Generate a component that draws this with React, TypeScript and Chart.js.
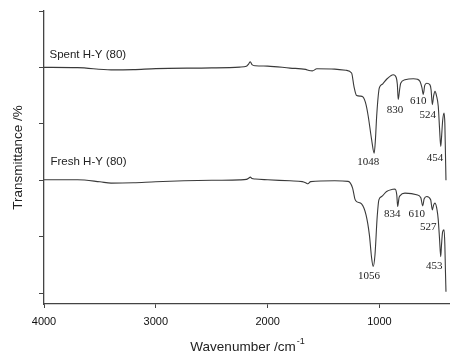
import React, { useEffect, useRef } from "react";
import { Chart, registerables } from "chart.js";

Chart.register(...registerables);

// Spent H-Y (80) spectrum: wavenumber (cm-1) and transmittance (offset, arbitrary units)
const spentWn = [4000, 3700, 3400, 3200, 3000, 2500, 2250, 2190, 2170, 2155, 2140, 2110, 2000, 1800, 1660, 1630, 1600, 1560, 1400, 1300, 1249, 1228, 1204, 1170, 1148, 1120, 1100, 1070, 1047, 1035, 1025, 1005, 996, 970, 936, 900, 877, 850, 840, 832, 820, 810, 772, 697, 660, 637, 620, 608, 595, 577, 548, 538, 527, 515, 503, 490, 474, 462, 452, 445, 435, 422, 415, 410, 405];
const spentT = [4.0, 3.996, 3.956, 3.961, 3.979, 3.991, 4.005, 4.02, 4.06, 4.098, 4.05, 4.03, 4.023, 3.988, 3.965, 3.945, 3.938, 3.975, 3.97, 3.949, 3.9, 3.664, 3.5, 3.49, 3.476, 3.34, 3.13, 2.72, 2.48, 2.75, 3.13, 3.6, 3.66, 3.71, 3.79, 3.85, 3.87, 3.82, 3.7, 3.43, 3.6, 3.72, 3.78, 3.8, 3.79, 3.75, 3.64, 3.52, 3.68, 3.72, 3.69, 3.6, 3.34, 3.5, 3.575, 3.5, 3.31, 2.9, 2.6, 2.75, 3.05, 3.19, 3.0, 2.5, 2.0];

// Fresh H-Y (80) spectrum
const freshWn = [4000, 3700, 3500, 3400, 3200, 3000, 2500, 2250, 2190, 2170, 2155, 2140, 2110, 2000, 1800, 1690, 1660, 1640, 1615, 1400, 1280, 1240, 1220, 1204, 1160, 1120, 1090, 1070, 1056, 1040, 1020, 1005, 980, 936, 880, 861, 845, 837, 825, 817, 772, 667, 630, 613, 600, 577, 542, 527, 515, 503, 485, 474, 462, 452, 445, 435, 422, 415, 410, 405];
const freshT = [2.007, 2.007, 1.972, 1.948, 1.954, 1.972, 1.998, 2.005, 2.015, 2.035, 2.055, 2.03, 2.02, 2.007, 1.989, 1.975, 1.955, 1.936, 1.975, 1.989, 1.98, 1.86, 1.67, 1.62, 1.58, 1.385, 1.03, 0.62, 0.47, 0.675, 1.355, 1.652, 1.71, 1.8, 1.838, 1.842, 1.74, 1.533, 1.687, 1.723, 1.771, 1.741, 1.687, 1.545, 1.67, 1.71, 1.652, 1.474, 1.563, 1.593, 1.474, 1.297, 0.94, 0.645, 0.853, 1.083, 1.119, 0.853, 0.41, 0.023];

// Peak labels (text, anchor wavenumber, anchor value)
const spentPeakText = ["1048", "830", "610", "524", "454"];
const spentPeakWn = [1100, 861, 653, 568, 503];
const spentPeakT = [2.32, 3.25, 3.41, 3.16, 2.39];
const freshPeakText = ["1056", "834", "610", "527", "453"];
const freshPeakWn = [1094, 885, 667, 563, 509];
const freshPeakT = [0.3, 1.4, 1.4, 1.17, 0.47];

// Series names with anchors
const seriesNames = ["Spent H-Y (80)", "Fresh H-Y (80)"];
const seriesNameWn = [3951, 3942];
const seriesNameT = [4.23, 2.32];

const xTicks = [4000, 3000, 2000, 1000];
const yTicks = [0, 1, 2, 3, 4, 5];
const xTitle = "Wavenumber /cm";
const xTitleSup = "-1";
const yTitle = "Transmittance /%";

const SANS = "'Liberation Sans', Arial, sans-serif";
const SERIF = "'Liberation Serif', 'Times New Roman', serif";

export default function App() {
  const ref = useRef<HTMLCanvasElement>(null);
  useEffect(() => {
    const canvas = ref.current;
    if (!canvas) return;
    const textPlugin = {
      id: "texts",
      afterDraw(chart: any) {
        const ctx = chart.ctx;
        const xs = chart.scales.x;
        const ys = chart.scales.y;
        ctx.save();
        ctx.fillStyle = "#222";
        // peak labels
        ctx.font = `11px ${SERIF}`;
        ctx.textAlign = "center";
        ctx.textBaseline = "middle";
        spentPeakText.forEach((t, i) => {
          ctx.fillText(t, xs.getPixelForValue(spentPeakWn[i]), ys.getPixelForValue(spentPeakT[i]));
        });
        freshPeakText.forEach((t, i) => {
          ctx.fillText(t, xs.getPixelForValue(freshPeakWn[i]), ys.getPixelForValue(freshPeakT[i]));
        });
        // series names
        ctx.font = `11.5px ${SANS}`;
        ctx.textAlign = "left";
        seriesNames.forEach((t, i) => {
          ctx.fillText(t, xs.getPixelForValue(seriesNameWn[i]), ys.getPixelForValue(seriesNameT[i]));
        });
        // x title with superscript
        const ca = chart.chartArea;
        ctx.font = `13.5px ${SANS}`;
        const w1 = ctx.measureText(xTitle).width;
        ctx.font = `9px ${SANS}`;
        const w2 = ctx.measureText(xTitleSup).width;
        const cx = (ca.left + ca.right) / 2;
        const startX = cx - (w1 + w2) / 2;
        ctx.textAlign = "left";
        ctx.textBaseline = "alphabetic";
        ctx.font = `13.5px ${SANS}`;
        ctx.fillText(xTitle, startX, 351);
        ctx.font = `9px ${SANS}`;
        ctx.fillText(xTitleSup, startX + w1 + 1, 344);
        // y title
        ctx.font = `13.5px ${SANS}`;
        ctx.translate(21.5, (ca.top + ca.bottom) / 2);
        ctx.rotate(-Math.PI / 2);
        ctx.textAlign = "center";
        ctx.fillText(yTitle, 0, 0);
        ctx.restore();
      },
    };
    const chart = new Chart(canvas, {
      type: "line",
      data: {
        datasets: [
          {
            label: seriesNames[0],
            data: spentWn.map((x, i) => ({ x, y: spentT[i] })),
            borderColor: "#3a3a3a",
            borderWidth: 1.1,
            pointRadius: 0,
            cubicInterpolationMode: "monotone",
          },
          {
            label: seriesNames[1],
            data: freshWn.map((x, i) => ({ x, y: freshT[i] })),
            borderColor: "#3a3a3a",
            borderWidth: 1.1,
            pointRadius: 0,
            cubicInterpolationMode: "monotone",
          },
        ],
      },
      options: {
        animation: false,
        responsive: false,
        layout: { padding: { top: 11, right: 0, left: 0, bottom: 0 } },
        plugins: { legend: { display: false }, tooltip: { enabled: false } },
        scales: {
          x: {
            type: "linear",
            reverse: true,
            min: 369,
            max: 4000,
            afterBuildTicks: (s: any) => {
              s.ticks = xTicks.map((v) => ({ value: v }));
            },
            afterFit: (s: any) => {
              s.height = 50;
            },
            grid: { drawOnChartArea: false, drawTicks: true, tickLength: 4, color: "#444", lineWidth: 1 },
            border: { display: true, color: "#444", width: 1.3 },
            ticks: {
              color: "#111",
              font: { family: SANS, size: 11 },
              padding: 7,
              maxRotation: 0,
              callback: (v: any) => String(v),
            },
          },
          y: {
            type: "linear",
            min: -0.195,
            max: 5,
            afterBuildTicks: (s: any) => {
              s.ticks = yTicks.map((v) => ({ value: v }));
            },
            afterFit: (s: any) => {
              s.width = 44;
            },
            grid: { drawOnChartArea: false, drawTicks: true, tickLength: 5, color: "#444", lineWidth: 1 },
            border: { display: true, color: "#444", width: 1.3 },
            ticks: { display: false },
          },
        },
      },
      plugins: [textPlugin],
    } as any);
    return () => chart.destroy();
  }, []);
  return (
    <div style={{ position: "fixed", left: 0, top: 0, width: 450, height: 354, background: "#fff" }}>
      <canvas ref={ref} width={450} height={354} style={{ display: "block" }} />
    </div>
  );
}
